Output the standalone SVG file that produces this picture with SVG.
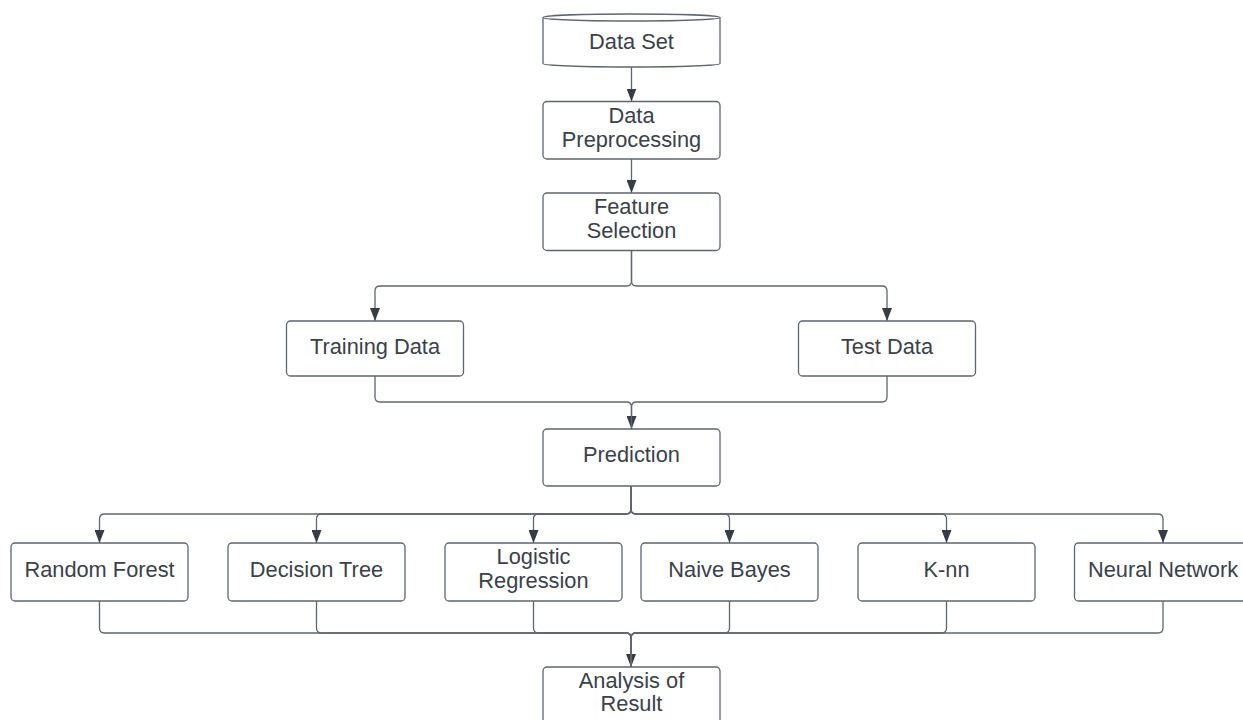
<svg xmlns="http://www.w3.org/2000/svg" width="1243" height="720" viewBox="0 0 1243 720">
<style>
.box{fill:#ffffff;stroke:#5f6670;stroke-width:1.3}
.t{font-family:"Liberation Sans",Arial,sans-serif;font-size:21.8px;fill:#3a414a;text-anchor:middle}
.c{fill:none;stroke:#5f6670;stroke-width:1.3}
.a{marker-end:url(#arr)}
</style>
<defs>
<marker id="arr" viewBox="0 0 13 10" refX="13" refY="5" markerWidth="13" markerHeight="10" markerUnits="userSpaceOnUse" orient="auto">
<path d="M0 0 L13 5 L0 10 Z" fill="#383d45"/>
</marker>
</defs>
<rect width="1243" height="720" fill="#ffffff"/>
<g id="connectors">
<path class="c a" d="M631.5 67 V101.5"/>
<path class="c a" d="M631.5 159 V193"/>
<path class="c a" d="M631.5 250 V281 Q631.5 286 626.5 286 H380 Q375 286 375 291 V321"/>
<path class="c a" d="M631.5 250 V281 Q631.5 286 636.5 286 H882 Q887 286 887 291 V321"/>
<path class="c a" d="M375 376 V397 Q375 402 380 402 H626.5 Q631.5 402 631.5 407 V429"/>
<path class="c" d="M887 376 V397 Q887 402 882 402 H636.5 Q631.5 402 631.5 407 V429"/>
<path class="c a" d="M631 486 V509 Q631 514 626 514 H104.5 Q99.5 514 99.5 519 V543"/>
<path class="c a" d="M631 486 V509 Q631 514 626 514 H321.5 Q316.5 514 316.5 519 V543"/>
<path class="c a" d="M631 486 V509 Q631 514 626 514 H538.5 Q533.5 514 533.5 519 V543"/>
<path class="c a" d="M631 486 V509 Q631 514 636 514 H724.5 Q729.5 514 729.5 519 V543"/>
<path class="c a" d="M631 486 V509 Q631 514 636 514 H941.5 Q946.5 514 946.5 519 V543"/>
<path class="c a" d="M631 486 V509 Q631 514 636 514 H1158 Q1163 514 1163 519 V543"/>
<path class="c a" d="M99.5 601 V628 Q99.5 633 104.5 633 H626 Q631 633 631 638 V667"/>
<path class="c" d="M316.5 601 V628 Q316.5 633 321.5 633 H626 Q631 633 631 638 V667"/>
<path class="c" d="M533.5 601 V628 Q533.5 633 538.5 633 H626 Q631 633 631 638 V667"/>
<path class="c" d="M729.5 601 V628 Q729.5 633 724.5 633 H636 Q631 633 631 638 V667"/>
<path class="c" d="M946.5 601 V628 Q946.5 633 941.5 633 H636 Q631 633 631 638 V667"/>
<path class="c" d="M1163 601 V628 Q1163 633 1158 633 H636 Q631 633 631 638 V667"/>
</g>
<g id="dataset">
<path class="box" d="M543 17.5 A88.5 3.5 0 0 1 720 17.5 V63.5 A88.5 3.5 0 0 1 543 63.5 Z"/>
<path class="c" d="M543 17.5 A88.5 3.5 0 0 0 720 17.5"/>
<text class="t" x="631.5" y="48.5">Data Set</text>
</g>
<g id="preprocessing">
<rect class="box" x="543" y="101.5" width="177" height="57.5" rx="4"/>
<text class="t" x="631.5" y="122.5">Data</text>
<text class="t" x="631.5" y="146.5">Preprocessing</text>
</g>
<g id="feature">
<rect class="box" x="543" y="193" width="177" height="57.5" rx="4"/>
<text class="t" x="631.5" y="213.5">Feature</text>
<text class="t" x="631.5" y="237.5">Selection</text>
</g>
<g id="training">
<rect class="box" x="286.5" y="321" width="177" height="55" rx="4"/>
<text class="t" x="375" y="353.5">Training Data</text>
</g>
<g id="test">
<rect class="box" x="798.5" y="321" width="177" height="55" rx="4"/>
<text class="t" x="887" y="353.5">Test Data</text>
</g>
<g id="prediction">
<rect class="box" x="543" y="429" width="177" height="57" rx="4"/>
<text class="t" x="631.5" y="462">Prediction</text>
</g>
<g id="rf">
<rect class="box" x="11" y="543" width="177" height="58" rx="4"/>
<text class="t" x="99.5" y="577">Random Forest</text>
</g>
<g id="dt">
<rect class="box" x="228" y="543" width="177" height="58" rx="4"/>
<text class="t" x="316.5" y="577">Decision Tree</text>
</g>
<g id="lr">
<rect class="box" x="445" y="543" width="177" height="58" rx="4"/>
<text class="t" x="533.5" y="564">Logistic</text>
<text class="t" x="533.5" y="588">Regression</text>
</g>
<g id="nb">
<rect class="box" x="641" y="543" width="177" height="58" rx="4"/>
<text class="t" x="729.5" y="577">Naive Bayes</text>
</g>
<g id="knn">
<rect class="box" x="858" y="543" width="177" height="58" rx="4"/>
<text class="t" x="946.5" y="577">K-nn</text>
</g>
<g id="nn">
<rect class="box" x="1074.5" y="543" width="177" height="58" rx="4"/>
<text class="t" x="1163" y="577">Neural Network</text>
</g>
<g id="analysis">
<rect class="box" x="543" y="667" width="177" height="58" rx="4"/>
<text class="t" x="631.5" y="687.5">Analysis of</text>
<text class="t" x="631.5" y="711">Result</text>
</g>
</svg>
